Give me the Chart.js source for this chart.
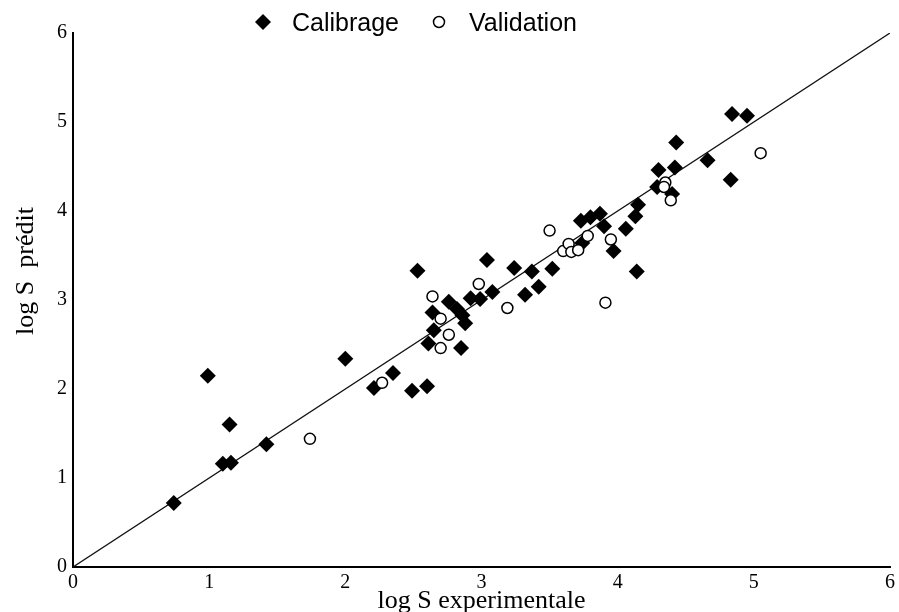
<!DOCTYPE html>
<html>
<head>
<meta charset="utf-8">
<script src="https://cdn.jsdelivr.net/npm/chart.js@4/dist/chart.umd.min.js"></script>
<style>
  html, body { margin: 0; padding: 0; background: #fff; }
  #wrap { width: 899px; height: 612px; }
</style>
</head>
<body>
<div id="wrap"><canvas id="canvas" width="899" height="612"></canvas></div>
<script>
// values (log S experimentale, log S predit)
var calibrageX = [0.74, 0.99, 1.10, 1.16, 1.15, 1.42, 2.00, 2.21, 2.35, 2.49, 2.60, 2.53, 2.61, 2.65, 2.85, 2.64,
                  2.76, 2.82, 2.86, 2.88, 2.92, 2.99, 3.04, 3.08, 3.24, 3.32, 3.37, 3.42, 3.52, 3.73, 3.80, 3.87,
                  3.90, 3.74, 3.97, 4.06, 4.13, 4.15, 4.14, 4.29, 4.30, 4.40, 4.42, 4.43, 4.66, 4.83, 4.84, 4.95]
var calibrageY = [0.72, 2.15, 1.16, 1.17, 1.60, 1.38, 2.34, 2.01, 2.18, 1.98, 2.03, 3.33, 2.51, 2.66, 2.46, 2.86,
                  2.98, 2.90, 2.83, 2.74, 3.02, 3.01, 3.45, 3.09, 3.36, 3.06, 3.32, 3.15, 3.35, 3.89, 3.93, 3.97,
                  3.83, 3.64, 3.55, 3.80, 3.94, 4.07, 3.32, 4.27, 4.46, 4.19, 4.49, 4.77, 4.57, 4.35, 5.09, 5.07]

var validationX = [1.74, 2.27, 2.64, 2.70, 2.70, 2.76, 2.98, 3.19, 3.50, 3.60, 3.64, 3.66, 3.71, 3.78, 3.91, 3.95,
                   4.35, 4.34, 4.39, 5.05]
var validationY = [1.44, 2.07, 3.04, 2.79, 2.46, 2.61, 3.18, 2.91, 3.78, 3.55, 3.63, 3.54, 3.56, 3.72, 2.97, 3.68,
                   4.32, 4.27, 4.12, 4.65]

// droite y = x
var droiteX = [0, 6]
var droiteY = [0, 6]

var axeMin = 0
var axeMax = 6

function toPoints(xs, ys){
    var pts = []
    for (var i = 0; i < xs.length; i++) {
        pts.push({x: xs[i], y: ys[i]})
    }
    return pts
}

// legend + rotated y title drawn by hand so they sit where the original has them
var legendeEtTitre = {
    id: 'legendeEtTitre',
    afterDraw: function(chart){
        var ctx = chart.ctx
        ctx.save()
        ctx.fillStyle = '#000'
        ctx.strokeStyle = '#000'

        // diamond
        ctx.beginPath()
        ctx.moveTo(263, 14)
        ctx.lineTo(271, 22)
        ctx.lineTo(263, 30)
        ctx.lineTo(255, 22)
        ctx.closePath()
        ctx.fill()

        // open circle
        ctx.beginPath()
        ctx.lineWidth = 1.5
        ctx.arc(439, 22, 5.5, 0, Math.PI * 2)
        ctx.fillStyle = '#fff'
        ctx.fill()
        ctx.stroke()

        ctx.fillStyle = '#000'
        ctx.font = '25px "Liberation Sans", Arial, sans-serif'
        ctx.textBaseline = 'alphabetic'
        ctx.textAlign = 'left'
        ctx.fillText('Calibrage', 292, 31)
        ctx.fillText('Validation', 469, 31)

        // y axis title
        ctx.translate(26, 271)
        ctx.rotate(-Math.PI / 2)
        ctx.textAlign = 'center'
        ctx.textBaseline = 'middle'
        ctx.font = '26px "Liberation Serif", "Times New Roman", serif'
        ctx.fillText('log S  prédit', 0, 0)
        ctx.restore()
    }
}

var ctx = document.getElementById('canvas')
var myChart = new Chart(ctx, {
    type: 'scatter',
    data: {
        datasets: [
            {
                label: 'Validation',
                data: toPoints(validationX, validationY),
                pointStyle: 'circle',
                pointRadius: 5.5,
                pointBorderWidth: 1.5,
                pointBackgroundColor: '#fff',
                pointBorderColor: '#000',
                order: 0
            },
            {
                label: 'Calibrage',
                data: toPoints(calibrageX, calibrageY),
                pointStyle: 'rectRot',
                pointRadius: 8,
                pointBorderWidth: 0,
                pointBackgroundColor: '#000',
                pointBorderColor: '#000',
                order: 1
            },
            {
                type: 'line',
                label: 'y = x',
                data: toPoints(droiteX, droiteY),
                borderColor: '#111',
                borderWidth: 1.3,
                pointRadius: 0,
                fill: false,
                order: 2
            }
        ]
    },
    options: {
        responsive: false,
        animation: false,
        layout: { padding: { left: 0, right: 6, top: 33, bottom: 0 } },
        plugins: {
            legend: { display: false },
            tooltip: { enabled: false }
        },
        scales: {
            x: {
                type: 'linear',
                min: axeMin,
                max: axeMax,
                grid: { display: false, drawTicks: false },
                border: { display: true, color: '#000', width: 2 },
                ticks: {
                    stepSize: 1,
                    padding: 4,
                    color: '#000',
                    font: { family: '"Liberation Serif", "Times New Roman", serif', size: 20 }
                },
                title: {
                    display: true,
                    text: 'log S experimentale',
                    color: '#000',
                    padding: { top: 0, bottom: -5 },
                    font: { family: '"Liberation Serif", "Times New Roman", serif', size: 26 }
                },
                afterFit: function(scale){ scale.height = 45 }
            },
            y: {
                type: 'linear',
                min: axeMin,
                max: axeMax,
                grid: { display: false, drawTicks: false },
                border: { display: true, color: '#000', width: 2 },
                ticks: {
                    stepSize: 1,
                    padding: 6,
                    color: '#000',
                    font: { family: '"Liberation Serif", "Times New Roman", serif', size: 20 }
                },
                afterFit: function(scale){ scale.width = 73 }
            }
        }
    },
    plugins: [legendeEtTitre]
});
</script>
</body>
</html>
